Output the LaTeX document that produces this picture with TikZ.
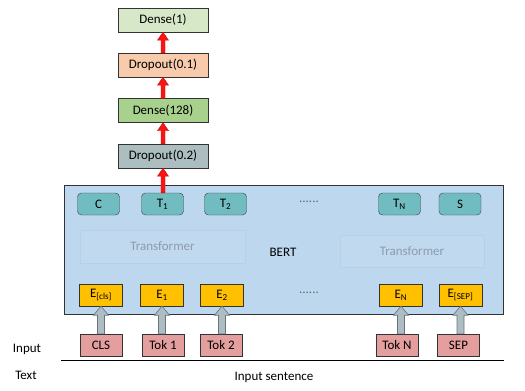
\documentclass[tikz,border=0pt]{standalone}
\usepackage{fontspec}
\setmainfont{Carlito}
\usetikzlibrary{positioning,calc}

\definecolor{bertbg}{RGB}{189,215,238}
\definecolor{trffill}{RGB}{193,217,239}
\definecolor{trfline}{RGB}{181,208,232}
\definecolor{trftext}{RGB}{140,156,172}
\definecolor{tealc}{RGB}{112,188,192}
\definecolor{goldc}{RGB}{255,192,0}
\definecolor{pinkc}{RGB}{228,158,158}
\definecolor{denseone}{RGB}{214,232,200}
\definecolor{dropone}{RGB}{248,203,173}
\definecolor{densetwo}{RGB}{169,209,142}
\definecolor{droptwo}{RGB}{173,190,192}
\definecolor{grayarr}{RGB}{172,190,196}
\definecolor{grayline}{RGB}{105,115,120}
\definecolor{arrred}{RGB}{250,20,20}

\begin{document}
\begin{tikzpicture}[
  x=1pt, y=-1pt,
  font=\fontsize{13}{15}\selectfont,
  layer/.style  = {draw=black!80, minimum width=90pt, minimum height=24pt, inner sep=0pt},
  outbox/.style = {draw=black!75, rounded corners=4pt, fill=tealc,
                   minimum width=42pt, minimum height=22pt, inner sep=0pt},
  embbox/.style = {draw=black!80, fill=goldc, minimum width=43pt, minimum height=22pt, inner sep=0pt},
  tokbox/.style = {draw=black!80, fill=pinkc, minimum width=42pt, minimum height=22pt, inner sep=0pt},
  trf/.style    = {draw=trfline, fill=trffill, text=trftext, inner sep=0pt},
  dots/.style   = {text=black!60, inner sep=0pt},
  lbl/.style    = {inner sep=0pt},
  blk/.style n args = {3}{to path={let \p1=(\tikztostart), \p2=(\tikztotarget) in
      (\x2-#1,\y1) -- (\x2-#1,\y2-#3) -- (\x2-#2,\y2-#3) -- (\x2,\y2)
      -- (\x2+#2,\y2-#3) -- (\x2+#1,\y2-#3) -- (\x2+#1,\y1) -- cycle}},
  redup/.style  = {fill=arrred, draw=arrred!75!black, line width=0.4pt, blk={2pt}{5.5pt}{8pt}},
  grayup/.style = {fill=grayarr, draw=grayline, line width=0.6pt, blk={3.5pt}{7.5pt}{9pt}},
]
\useasboundingbox (0,0) rectangle (525,391);

% ---------------- classifier head --------------------------------------
\node[layer, fill=denseone] (dense1)   at (163,20)    {Dense(1)};
\node[layer, fill=dropone]  (drop1)    at (163,65)    {Dropout(0.1)};
\node[layer, fill=densetwo] (dense128) at (163,110.5) {Dense(128)};
\node[layer, fill=droptwo]  (drop2)    at (163,156)   {Dropout(0.2)};

% ---------------- BERT block -------------------------------------------
\node[draw=black!80, fill=bertbg, minimum width=439pt, minimum height=129pt,
      inner sep=0pt] (bert) at (283.5,249.5) {};

\node[trf, minimum width=165pt, minimum height=33pt] (trfL) at (162.5,246.5) {Transformer};
\node[trf, minimum width=144pt, minimum height=32pt] (trfR) at (412,251)     {Transformer};
\node[lbl] (bertlbl) at (283,252) {BERT};

% output row
\node[outbox] (c)  at (98.5,204)  {C};
\node[outbox] (t1) at (162.5,204) {T\textsubscript{1}};
\node[outbox] (t2) at (225.5,204) {T\textsubscript{2}};
\node[dots]   (dtop) at (309,202) {......};
\node[outbox] (tn) at (399.5,204) {T\textsubscript{N}};
\node[outbox] (s)  at (460,204)   {S};

% embedding row
\node[embbox] (ecls) at (101,295)   {E\textsubscript{[cls]}};
\node[embbox] (e1)   at (162,295)   {E\textsubscript{1}};
\node[embbox] (e2)   at (222,295)   {E\textsubscript{2}};
\node[dots]   (dbot) at (309,293)   {......};
\node[embbox] (en)   at (401,295)   {E\textsubscript{N}};
\node[embbox] (esep) at (460.5,295) {E\textsubscript{[SEP]}};

% ---------------- input tokens -----------------------------------------
\node[tokbox] (cls)  at (101,345)   {CLS};
\node[tokbox] (tok1) at (163,345)   {Tok 1};
\node[tokbox] (tok2) at (221,345)   {Tok 2};
\node[tokbox] (tokn) at (397,345)   {Tok N};
\node[tokbox] (sep)  at (458.5,345) {SEP};

\node[lbl] (inlbl)  at (27,349)  {Input};
\node[lbl] (txtlbl) at (26,375)  {Text};
\node[lbl] (sent)   at (274,377) {Input sentence};

\coordinate (sepL) at (61,360);
\coordinate (sepR) at (504,360);
\draw[black, line width=0.8pt] (sepL) -- (sepR);

% ---------------- arrows -----------------------------------------------
\path[redup] (t1.north) to (drop2.south);
\path[redup] (drop2.north) to (dense128.south);
\path[redup] (dense128.north) to (drop1.south);
\path[redup] (drop1.north) to (dense1.south);

\path[grayup] (cls.north)  to (ecls.south);
\path[grayup] (tok1.north) to (e1.south);
\path[grayup] (tok2.north) to (e2.south);
\path[grayup] (tokn.north) to (en.south);
\path[grayup] (sep.north)  to (esep.south);

\end{tikzpicture}
\end{document}
